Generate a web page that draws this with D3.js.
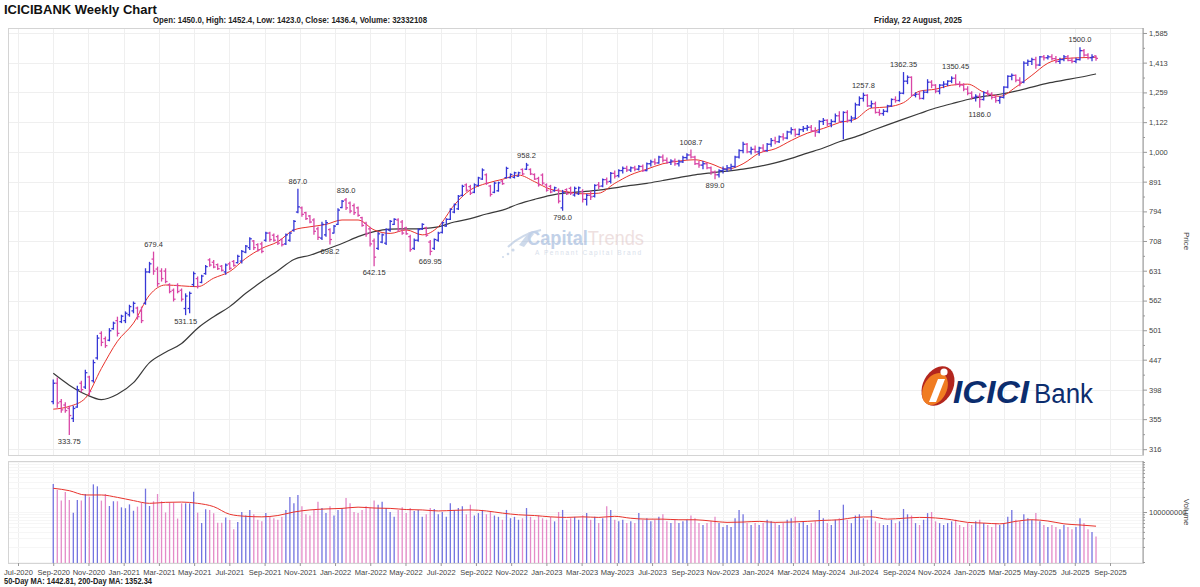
<!DOCTYPE html>
<html>
<head>
<meta charset="utf-8">
<title>ICICIBANK Weekly Chart</title>
<script src="https://cdn.jsdelivr.net/npm/d3@7/dist/d3.min.js"></script>
<style>
  body { margin: 0; background: #fff; }
  text { font-family: "Liberation Sans", Arial, sans-serif; }
</style>
</head>
<body>
<svg id="chart" width="1200" height="587"></svg>
<script>
// weekly bars, first bar = week ending 28 Aug 2020
const firstWeek = "2020-08-28";

const opens = [
  380,408,380,375,370,356,372,408,402,418,412,450,495,485,482,504,520,518,520,532,
  540,546,540,556,628,660,635,630,630,598,585,596,585,545,545,598,612,603,624,658,
  652,646,642,628,648,654,651,655,678,690,708,698,700,710,730,724,720,712,700,710,
  738,792,805,790,780,768,742,716,725,740,730,755,806,830,820,812,805,775,758,742,
  708,688,705,702,738,755,768,762,745,720,688,710,742,745,705,688,710,732,750,770,
  792,802,845,880,874,855,878,900,915,876,855,860,893,905,905,906,910,934,935,934,
  916,902,914,880,875,860,862,805,864,868,846,850,
  858,832,845,842,880,876,898,892,920,912,930,938,932,940,935,945,930,955,962,958,
  980,968,960,965,955,962,978,988,980,955,950,955,940,925,915,930,935,940,945,980,
  1005,1030,1000,1010,1000,1015,1005,1030,1045,1040,1060,1055,1080,1090,1070,1090,1095,1100,1085,1080,
  1125,1130,1115,1125,1150,1125,1165,1130,1140,1200,1230,1245,1195,1205,1165,1160,1170,1195,1225,1220,
  1255,1315,1335,1245,1250,1230,1260,1310,1295,1265,1295,1300,1315,1330,1300,1295,1275,1255,1235,1240,
  1225,1258,1250,1235,1220,1235,1285,1340,1345,1320,1310,1410,1420,1430,1400,1445,1440,1445,1435,1420,
  1430,1445,1425,1420,1430,1480,1455,1440,1450
];
const highs = [
  414,417,384,379,374,374,404,412,430,420,447,492,499,489,505,518,528,532,539,553,
  560,549,549,637,653,679.4,641,637,637,601,589,601,589,578,582,629,617,621,645,662,
  658,649,645,649,653,658,671,684,697,718,711,702,706,734,734,729,725,715,729,734,
  768,867,809,793,783,773,748,763,768,744,753,804,830,836,825,819,809,778,763,748,
  715,734,729,744,768,773,773,768,748,725,715,744,758,748,711,715,734,763,773,804,
  819,846,880,885,880,885,908,938,920,880,891,891,897,944,920,926,926,938,958.2,938,
  920,908,920,885,880,874,868,863,868,874,874,874,
  865,850,860,882,890,902,905,925,930,935,945,948,945,948,950,952,960,970,975,985,
  990,978,972,975,970,985,995,1008.7,985,965,965,960,945,930,935,945,950,955,985,1010,
  1040,1035,1020,1025,1020,1030,1035,1055,1060,1065,1075,1085,1100,1095,1095,1105,1110,1110,1100,1130,
  1140,1135,1135,1160,1170,1170,1175,1150,1210,1240,1257.8,1250,1220,1215,1180,1180,1200,1230,1240,1265,
  1362.35,1345,1340,1260,1265,1270,1325,1320,1300,1300,1315,1320,1340,1350.45,1315,1305,1290,1265,1250,1255,
  1265,1270,1260,1250,1240,1290,1345,1355,1350,1335,1420,1430,1440,1445,1450,1455,1455,1460,1450,1440,
  1455,1455,1440,1440,1500,1490,1465,1460,1452.4
];
const lows = [
  376,371,364,364,333.75,351,371,394,399,389,409,447,471,468,480,502,489,515,515,528,
  535,522,515,553,625,621,593,605,601,578,560,578,560,531.15,535,593,589,601,621,641,
  637,633,629,621,633,641,649,649,675,684,684,679,675,706,706,706,697,693,697,706,
  734,788,778,768,758,725,711,711,720,698.2,729,753,804,798,788,783,778,748,720,693,
  642.15,684,702,697,734,753,734,725,725,679,684,706,739,720,669.95,684,706,729,748,768,
  788,798,841,857,846,852,874,897,880,841,852,857,880,902,902,902,908,914,932,914,
  897,874,880,857,852,857,819,796,846,846,841,846,
  822,812,830,838,866,872,880,885,902,905,920,925,925,928,930,925,928,945,950,955,
  960,955,950,948,945,958,970,975,950,940,935,935,915,899,905,920,925,930,940,975,
  995,995,990,995,985,1000,1000,1020,1030,1035,1045,1050,1070,1060,1065,1080,1085,1080,1060,1075,
  1110,1105,1100,1120,1120,1050,1120,1120,1135,1195,1215,1190,1185,1160,1150,1150,1165,1190,1210,1215,
  1250,1300,1240,1235,1225,1225,1255,1280,1255,1250,1280,1290,1305,1295,1285,1265,1245,1225,1215,1186,
  1220,1240,1225,1210,1205,1230,1280,1320,1310,1290,1305,1395,1400,1380,1395,1425,1430,1425,1410,1405,
  1420,1420,1410,1410,1425,1445,1430,1420,1423
];
const closes = [
  408,378,368,367,360,370,398,398,425,395,442,486,478,472,500,515,495,529,535,549,
  556,528,520,628,648,630,600,612,605,582,565,582,565,572,578,624,594,618,641,645,
  640,636,632,645,637,644,667,680,694,714,690,684,680,730,712,710,702,698,725,730,
  764,808,785,772,762,735,718,755,760,712,750,798,826,805,795,790,782,752,728,700,
  665,728,725,740,764,770,740,730,728,685,710,740,755,724,680,712,730,760,770,800,
  815,842,875,862,852,880,904,932,885,848,886,887,884,938,916,922,922,918,950,918,
  900,880,886,862,856,870,826,855,850,852,868,870,
  832,845,840,878,875,898,890,920,910,930,938,932,940,935,945,930,955,962,958,980,
  968,960,965,955,962,978,988,980,955,950,955,940,925,915,930,935,940,945,980,1005,
  1030,1000,1010,1000,1015,1005,1030,1045,1040,1060,1055,1080,1090,1070,1090,1095,1100,1085,1080,1125,
  1130,1115,1125,1150,1125,1165,1130,1140,1200,1230,1245,1195,1205,1165,1160,1170,1195,1225,1220,1255,
  1315,1335,1245,1250,1230,1260,1310,1295,1265,1295,1300,1315,1330,1300,1295,1275,1255,1235,1240,1225,
  1258,1250,1235,1220,1235,1285,1340,1345,1320,1310,1410,1420,1430,1400,1445,1440,1445,1435,1420,1430,
  1445,1425,1420,1430,1480,1455,1440,1445,1436.4
];
// weekly volume, millions of shares
const volumeM = [
  363,275,169,251,174,97,174,169,229,202,357,326,169,229,132,164,164,124,119,142,
  106,128,154,293,132,164,229,164,98,154,154,74,149,149,149,254,97,60,113,110,
  94,61,61,78,69,45,63,100,85,110,90,70,65,95,80,75,70,80,110,200,
  150,220,130,90,85,110,160,120,95,130,85,110,120,190,150,100,95,110,130,120,
  170,140,160,120,100,80,110,125,95,120,105,110,80,90,120,115,90,100,80,150,
  110,120,130,90,140,85,95,110,90,100,85,80,70,110,75,80,70,75,120,80,
  70,85,75,70,80,65,100,110,70,75,80,70,85,95,70,80,60,75,130,110,
  70,65,70,60,65,60,95,70,75,65,70,80,90,65,60,70,60,65,70,85,
  75,60,55,60,65,80,60,50,55,50,75,110,90,60,55,60,55,60,70,65,
  60,55,60,70,75,80,60,65,55,60,65,110,75,60,55,70,75,140,70,60,
  85,90,75,70,110,65,60,55,55,70,60,65,115,90,85,60,55,70,95,100,
  65,60,55,60,65,70,55,50,60,55,65,70,60,55,50,60,55,60,80,110,
  70,65,90,75,70,95,65,55,50,55,50,45,55,50,45,50,75,60,45,40,
  32.3
];

// moving averages read every 4th week
const maStep = 4;
const ma50 = [
  369,373,385,432,480,515,574,597,595,593,613,629,662,688,706,739,748,755,768,768,
  739,729,739,725,748,814,863,885,899,914,891,865,857,
  850,852,885,915,935,955,965,970,955,935,955,995,1012,1045,1075,1095,1120,1135,1185,1190,
  1210,1265,1275,1295,1300,1260,1240,1285,1345,1410,1435,1440,1442.81
];
const ma200 = [
  424,405,391,383,391,409,442,460,476,505,528,549,578,605,631,659,670,685,701,720,
  734,741,742,743,748,762,772,786,798,817,832,845,853,
  857,862,870,878,885,895,905,915,922,928,935,945,958,975,995,1015,1040,1060,1085,1110,
  1135,1160,1185,1205,1225,1240,1250,1265,1285,1305,1320,1335,1352.34
];
const volMaM = [
  298,267,219,219,196,169,149,156,158,149,128,90,82,80,85,100,110,115,118,125,
  120,118,112,110,105,108,110,105,95,88,85,80,78,80,78,82,75,72,72,70,
  70,66,62,63,65,62,63,65,68,70,78,80,72,75,78,76,70,62,60,58,
  65,70,66,58,55,52
];

const priceTicks = [316,355,398,447,501,562,631,708,794,891,1000,1122,1259,1413,1585];
const volumeTicks = [1e8];
const monthLabels = [
  "Jul-2020","Sep-2020","Nov-2020","Jan-2021","Mar-2021","May-2021","Jul-2021","Sep-2021",
  "Nov-2021","Jan-2022","Mar-2022","May-2022","Jul-2022","Sep-2022","Nov-2022","Jan-2023",
  "Mar-2023","May-2023","Jul-2023","Sep-2023","Nov-2023","Jan-2024","Mar-2024","May-2024",
  "Jul-2024","Sep-2024","Nov-2024","Jan-2025","Mar-2025","May-2025","Jul-2025","Sep-2025"
];
// [week index, label, side]
const markers = [
  [4,"333.75","low"],[25,"679.4","high"],[33,"531.15","low"],[61,"867.0","high"],
  [69,"698.2","low"],[73,"836.0","high"],[80,"642.15","low"],[94,"669.95","low"],
  [118,"958.2","high"],[127,"796.0","low"],[159,"1008.7","high"],[165,"899.0","low"],
  [202,"1257.8","high"],[212,"1362.35","high"],[225,"1350.45","high"],[231,"1186.0","low"],
  [256,"1500.0","high"]
];

const UP = "#3636d6", DOWN = "#d946a6";
const VUP = "#7373e0", VDOWN = "#e48ac8";

const svg = d3.select("#chart");
const P = { left: 8, right: 1143, top: 28, bottom: 455 };
const V = { top: 461, bottom: 563 };

const start = d3.timeParse("%Y-%m-%d")(firstWeek);
const dates = closes.map((c, i) => d3.timeWeek.offset(start, i));

const x = d3.scaleTime()
  .domain([new Date(2020, 5, 10), new Date(2025, 10, 12)])
  .range([P.left, P.right]);
const y = d3.scaleLog().domain([Math.pow(10, 2.5), Math.pow(10, 3.2)]).range([449, 33]);
const vy = d3.scaleLog().domain([1e7, 1e9]).range([V.bottom - 1, V.top + 1]).clamp(true);
const xl = d3.scalePoint().domain(monthLabels).range([18, 1110]);

// clip
const defs = svg.append("defs");
defs.append("clipPath").attr("id", "pclip").append("rect")
  .attr("x", P.left).attr("y", P.top).attr("width", P.right - P.left).attr("height", P.bottom - P.top);
defs.append("clipPath").attr("id", "vclip").append("rect")
  .attr("x", P.left).attr("y", V.top).attr("width", P.right - P.left).attr("height", V.bottom - V.top);

// grids
const grid = svg.append("g").attr("stroke", "#efefef").attr("stroke-width", 1);
grid.selectAll(".hg").data(priceTicks).join("line")
  .attr("x1", P.left).attr("x2", P.right)
  .attr("y1", d => Math.round(y(d)) + 0.5).attr("y2", d => Math.round(y(d)) + 0.5);
grid.selectAll(".vg").data(monthLabels).join("line")
  .attr("x1", d => Math.round(xl(d)) + 0.5).attr("x2", d => Math.round(xl(d)) + 0.5)
  .attr("y1", P.top).attr("y2", P.bottom);
grid.selectAll(".vg2").data(monthLabels).join("line")
  .attr("x1", d => Math.round(xl(d)) + 0.5).attr("x2", d => Math.round(xl(d)) + 0.5)
  .attr("y1", V.top).attr("y2", V.bottom);
grid.selectAll(".hv").data(vy.ticks()).join("line")
  .attr("x1", P.left).attr("x2", P.right)
  .attr("y1", d => Math.round(vy(d)) + 0.5).attr("y2", d => Math.round(vy(d)) + 0.5)
  .attr("stroke", "#f6f6f6");

// panel frames
svg.append("rect").attr("x", P.left + 0.5).attr("y", P.top + 0.5)
  .attr("width", P.right - P.left).attr("height", P.bottom - P.top)
  .attr("fill", "none").attr("stroke", "#d4d4d4");
svg.append("rect").attr("x", P.left + 0.5).attr("y", V.top + 0.5)
  .attr("width", P.right - P.left).attr("height", V.bottom - V.top)
  .attr("fill", "none").attr("stroke", "#d4d4d4");

// watermark
const wm = svg.append("g").attr("opacity", 0.5);
wm.append("path").attr("d", "M508,247 C516,239 527,233 541,230").attr("fill", "none")
  .attr("stroke", "#9fb6d8").attr("stroke-width", 2);
wm.append("path").attr("d", "M519,245 L529,232 L534,234 L524,247 Z").attr("fill", "#9fb6d8");
[[513,250,1.6],[508,254,1.3],[503,257,1]].forEach(c =>
  wm.append("circle").attr("cx", c[0]).attr("cy", c[1]).attr("r", c[2]).attr("fill", "#9fb6d8"));
const wmText = wm.append("text").attr("x", 527).attr("y", 245).attr("font-size", 20)
  .attr("textLength", 117).attr("lengthAdjust", "spacingAndGlyphs");
wmText.append("tspan").attr("fill", "#86a5d3").attr("font-weight", "bold").text("Capital");
wmText.append("tspan").attr("fill", "#dfc3c3").text("Trends");
wm.append("text").attr("x", 535).attr("y", 255).attr("font-size", 6.5)
  .attr("textLength", 106).attr("lengthAdjust", "spacing")
  .attr("fill", "#b3c2d8").text("A Pennant Capital Brand");

// ICICI Bank logo
const logo = svg.append("g");
logo.append("ellipse").attr("cx", 938).attr("cy", 386).attr("rx", 15).attr("ry", 21)
  .attr("transform", "rotate(28 938 386)").attr("fill", "#b3261e");
logo.append("ellipse").attr("cx", 935).attr("cy", 389).attr("rx", 11.5).attr("ry", 17)
  .attr("transform", "rotate(28 935 389)").attr("fill", "#f07c22");
logo.append("circle").attr("cx", 944).attr("cy", 372).attr("r", 3.6).attr("fill", "#fff");
logo.append("path").attr("d", "M938,379 L945,379 L936,402 L929,402 Z").attr("fill", "#fff");
logo.append("text").attr("x", 953).attr("y", 403).attr("font-size", 31)
  .attr("font-weight", "bold").attr("font-style", "italic").attr("fill", "#0c2d6e")
  .attr("textLength", 76).attr("lengthAdjust", "spacingAndGlyphs").text("ICICI");
logo.append("text").attr("x", 1034).attr("y", 403).attr("font-size", 27)
  .attr("fill", "#0c2d6e").attr("textLength", 59).attr("lengthAdjust", "spacingAndGlyphs").text("Bank");

// moving average lines
const maPts = arr => arr.map((v, k) => [d3.timeWeek.offset(start, k * maStep), v]);
const line = d3.line().x(d => x(d[0])).y(d => y(d[1])).curve(d3.curveMonotoneX);
svg.append("path").attr("clip-path", "url(#pclip)").attr("d", line(maPts(ma200)))
  .attr("fill", "none").attr("stroke", "#3a3a3a").attr("stroke-width", 1.2);
svg.append("path").attr("clip-path", "url(#pclip)").attr("d", line(maPts(ma50)))
  .attr("fill", "none").attr("stroke", "#e8322b").attr("stroke-width", 1);

// price bars
const idx = d3.range(closes.length);
const bar = svg.append("g").attr("stroke-width", 1.3).selectAll("g").data(idx).join("g")
  .attr("stroke", i => closes[i] >= opens[i] ? UP : DOWN);
bar.append("line")
  .attr("x1", i => x(dates[i])).attr("x2", i => x(dates[i]))
  .attr("y1", i => y(highs[i])).attr("y2", i => y(lows[i]));
bar.append("line")
  .attr("x1", i => x(dates[i]) - 2).attr("x2", i => x(dates[i]))
  .attr("y1", i => y(opens[i])).attr("y2", i => y(opens[i]));
bar.append("line")
  .attr("x1", i => x(dates[i])).attr("x2", i => x(dates[i]) + 2)
  .attr("y1", i => y(closes[i])).attr("y2", i => y(closes[i]));

// high / low labels
svg.append("g").attr("font-size", 7.5).attr("fill", "#333").attr("text-anchor", "middle")
  .selectAll("text").data(markers).join("text")
  .attr("x", d => x(dates[d[0]]))
  .attr("y", d => d[2] === "high" ? y(highs[d[0]]) - 5 : y(lows[d[0]]) + 9)
  .text(d => d[1]);

// volume
svg.append("g").attr("clip-path", "url(#vclip)").attr("stroke-width", 1.3)
  .selectAll("line").data(idx).join("line")
  .attr("stroke", i => closes[i] >= opens[i] ? VUP : VDOWN)
  .attr("x1", i => x(dates[i])).attr("x2", i => x(dates[i]))
  .attr("y1", i => vy(volumeM[i] * 1e6)).attr("y2", V.bottom);
const vline = d3.line().x(d => x(d[0])).y(d => vy(d[1] * 1e6)).curve(d3.curveMonotoneX);
svg.append("path").attr("clip-path", "url(#vclip)").attr("d", vline(maPts(volMaM)))
  .attr("fill", "none").attr("stroke", "#e8322b").attr("stroke-width", 1);

// right axes
const styleAxis = g => {
  g.select(".domain").attr("stroke", "#999");
  g.selectAll(".tick line").attr("stroke", "#999");
  g.selectAll(".tick text").attr("fill", "#444").attr("font-size", 7.5)
    .attr("font-family", "'Liberation Sans', Arial, sans-serif");
};
const minorP = d3.pairs(priceTicks).map(p => Math.sqrt(p[0] * p[1]));
svg.append("g").attr("transform", `translate(${P.right},0)`)
  .call(d3.axisRight(y).tickValues(minorP).tickSize(2).tickFormat("").tickSizeOuter(0))
  .call(g => g.select(".domain").remove())
  .call(g => g.selectAll(".tick line").attr("stroke", "#999"));
svg.append("g").attr("transform", `translate(${P.right},0)`)
  .call(d3.axisRight(y).tickValues(priceTicks).tickFormat(d3.format(",")).tickSize(4).tickPadding(2).tickSizeOuter(0))
  .call(styleAxis)
  .call(g => g.select(".domain").attr("d", `M0,${P.top}V${P.bottom}`));
svg.append("g").attr("transform", `translate(${P.right},0)`)
  .call(d3.axisRight(vy).tickValues(vy.ticks()).tickSize(2).tickFormat("").tickSizeOuter(0))
  .call(g => g.select(".domain").attr("stroke", "#999").attr("d", `M0,${V.top}V${V.bottom}`))
  .call(g => g.selectAll(".tick line").attr("stroke", "#999"));
svg.append("g").attr("transform", `translate(${P.right},0)`)
  .call(d3.axisRight(vy).tickValues(volumeTicks).tickFormat(d3.format("d")).tickSize(4).tickPadding(2).tickSizeOuter(0))
  .call(styleAxis)
  .call(g => g.select(".domain").remove());

svg.append("text").attr("transform", "translate(1184,241) rotate(90)").attr("text-anchor", "middle")
  .attr("font-size", 8).attr("fill", "#444").text("Price");
svg.append("text").attr("transform", "translate(1184,512) rotate(90)").attr("text-anchor", "middle")
  .attr("font-size", 8).attr("fill", "#444").text("Volume");

// bottom date axis
svg.append("g").attr("transform", `translate(0,${V.bottom})`)
  .call(d3.axisBottom(xl).tickSize(3).tickPadding(4))
  .call(g => g.select(".domain").remove())
  .call(g => g.selectAll(".tick line").attr("stroke", "#999"))
  .call(g => g.selectAll(".tick text").attr("fill", "#444").attr("font-size", 7.5)
    .attr("font-family", "'Liberation Sans', Arial, sans-serif"));

// header and footer text
svg.append("text").attr("x", 4).attr("y", 14).attr("font-size", 13).attr("font-weight", "bold")
  .attr("fill", "#111").text("ICICIBANK Weekly Chart");
svg.append("text").attr("x", 290).attr("y", 23).attr("text-anchor", "middle").attr("font-size", 8.5)
  .attr("font-weight", "bold").attr("fill", "#222").attr("textLength", 274).attr("lengthAdjust", "spacingAndGlyphs")
  .text("Open: 1450.0, High: 1452.4, Low: 1423.0, Close: 1436.4, Volume: 32332108");
svg.append("text").attr("x", 918).attr("y", 23).attr("text-anchor", "middle").attr("font-size", 8.5)
  .attr("font-weight", "bold").attr("fill", "#222").attr("textLength", 88).attr("lengthAdjust", "spacingAndGlyphs")
  .text("Friday, 22 August, 2025");
svg.append("text").attr("x", 4).attr("y", 584).attr("font-size", 8.5)
  .attr("font-weight", "bold").attr("fill", "#222").attr("textLength", 148).attr("lengthAdjust", "spacingAndGlyphs")
  .text("50-Day MA: 1442.81, 200-Day MA: 1352.34");
</script>
</body>
</html>
